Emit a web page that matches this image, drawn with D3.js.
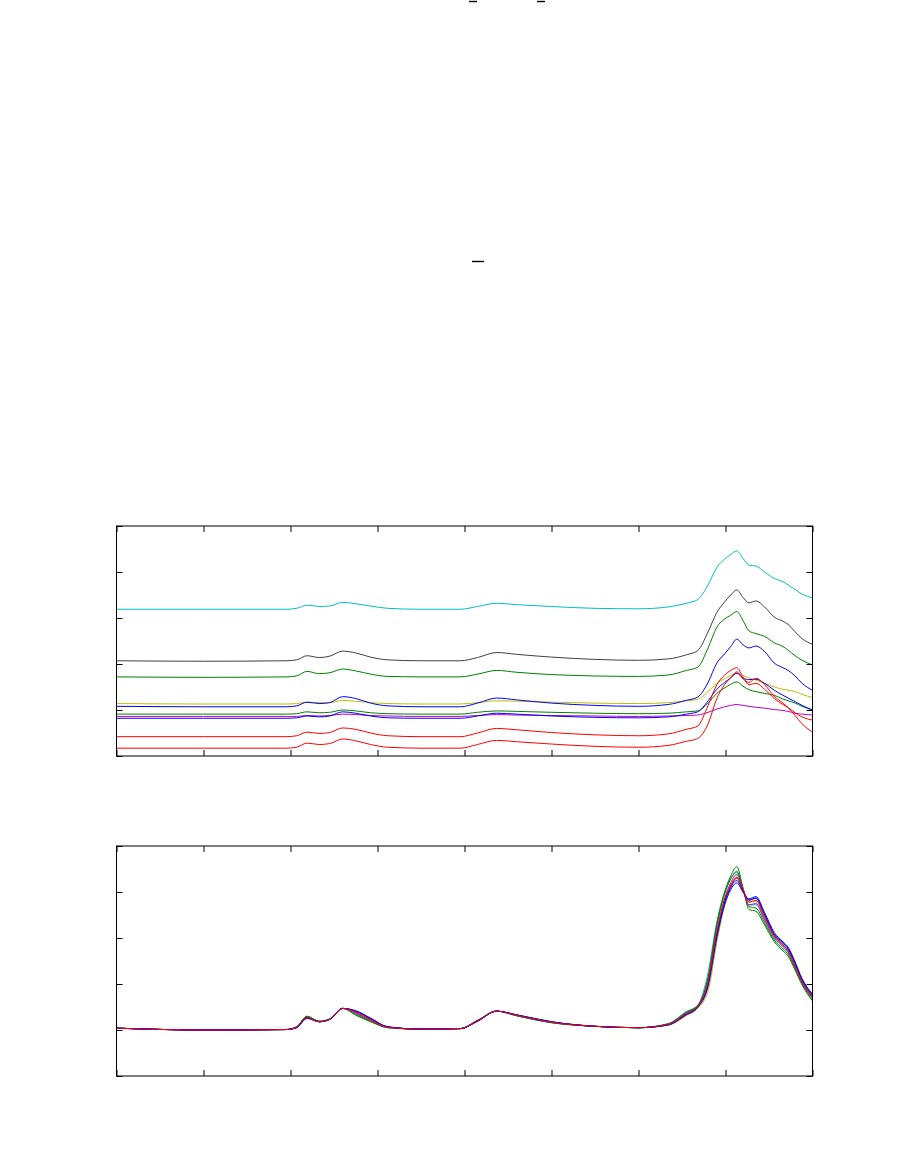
<!DOCTYPE html>
<html><head><meta charset="utf-8">
<script src="https://cdn.jsdelivr.net/npm/d3@7"></script>
<style>html,body{margin:0;padding:0;background:#fff;}svg{display:block;}</style>
</head><body>
<script>
// x sample positions (axis units, 0..8)
const xs = [0,1.0,1.95,2.07,2.19,2.33,2.45,2.60,2.75,2.92,3.12,3.5,3.95,4.15,4.37,4.6,5.0,5.5,6.0,6.34,6.55,6.68,6.80,6.90,6.99,7.06,7.13,7.20,7.27,7.35,7.45,7.56,7.66,7.72,7.80,7.88,8.0];
const xTicks = [0,1,2,3,4,5,6,7,8];
const yTicks = [0,1,2,3,4,5];

// Panel 1: offset spectra
const p1Cyan   = [3.19,3.19,3.19,3.21,3.28,3.25,3.26,3.34,3.31,3.26,3.21,3.19,3.19,3.25,3.32,3.29,3.25,3.21,3.20,3.24,3.32,3.40,3.72,4.10,4.28,4.38,4.46,4.30,4.15,4.13,4.00,3.86,3.79,3.72,3.62,3.52,3.44];
const p1Gray   = [2.07,2.06,2.07,2.09,2.18,2.14,2.17,2.28,2.24,2.15,2.09,2.07,2.07,2.14,2.25,2.21,2.15,2.10,2.08,2.11,2.20,2.29,2.70,3.12,3.35,3.50,3.61,3.45,3.33,3.37,3.24,3.02,2.93,2.86,2.70,2.55,2.43];
const p1Green1 = [1.72,1.71,1.72,1.74,1.84,1.79,1.81,1.89,1.85,1.78,1.73,1.72,1.72,1.78,1.86,1.82,1.77,1.74,1.73,1.76,1.86,1.93,2.35,2.80,2.98,3.06,3.14,2.95,2.72,2.66,2.60,2.46,2.38,2.30,2.18,2.08,1.98];
const p1Yellow = [1.14,1.13,1.13,1.14,1.17,1.16,1.16,1.21,1.19,1.16,1.14,1.13,1.13,1.16,1.20,1.19,1.17,1.15,1.14,1.16,1.20,1.23,1.40,1.58,1.68,1.75,1.80,1.75,1.70,1.65,1.58,1.50,1.45,1.43,1.40,1.34,1.27];
const p1Blue1  = [1.08,1.07,1.07,1.09,1.17,1.14,1.16,1.29,1.25,1.15,1.09,1.07,1.07,1.15,1.26,1.22,1.15,1.10,1.08,1.12,1.21,1.28,1.60,2.02,2.22,2.38,2.54,2.42,2.35,2.39,2.27,2.02,1.92,1.86,1.74,1.58,1.43];
const p1Green2 = [0.91,0.91,0.91,0.92,0.96,0.94,0.95,1.00,0.98,0.94,0.92,0.91,0.91,0.95,0.98,0.97,0.95,0.93,0.92,0.93,0.96,0.98,1.15,1.36,1.48,1.56,1.61,1.52,1.44,1.40,1.36,1.32,1.24,1.20,1.15,1.08,1.00];
const p1Purple = [0.86,0.86,0.86,0.86,0.88,0.87,0.88,0.91,0.90,0.88,0.87,0.86,0.86,0.88,0.90,0.89,0.88,0.87,0.86,0.87,0.88,0.89,0.95,1.02,1.07,1.10,1.12,1.10,1.08,1.06,1.04,1.01,0.99,0.97,0.93,0.91,0.89];
const p1Blue2  = [0.82,0.82,0.82,0.83,0.87,0.85,0.87,0.96,0.93,0.87,0.83,0.82,0.82,0.87,0.93,0.91,0.87,0.84,0.83,0.85,0.91,0.96,1.20,1.45,1.60,1.70,1.80,1.70,1.66,1.67,1.58,1.43,1.32,1.26,1.18,1.10,1.00];
const p1Red1   = [0.42,0.42,0.42,0.44,0.52,0.49,0.51,0.61,0.58,0.50,0.44,0.42,0.42,0.50,0.60,0.57,0.51,0.46,0.44,0.48,0.58,0.65,1.10,1.55,1.76,1.86,1.92,1.72,1.55,1.58,1.45,1.25,1.12,1.05,0.94,0.85,0.78];
const p1Red2   = [0.17,0.17,0.17,0.19,0.28,0.25,0.27,0.37,0.33,0.25,0.19,0.17,0.17,0.25,0.34,0.31,0.26,0.21,0.19,0.23,0.32,0.38,0.70,1.25,1.55,1.70,1.83,1.68,1.60,1.69,1.55,1.30,1.15,1.05,0.88,0.70,0.52];

// Panel 2: normalised spectra
const p2Green1  = [1.04,1.00,1.01,1.07,1.30,1.19,1.24,1.47,1.32,1.18,1.05,1.02,1.03,1.21,1.41,1.31,1.16,1.08,1.05,1.13,1.39,1.53,2.15,3.30,4.00,4.35,4.55,4.10,3.62,3.58,3.28,2.92,2.72,2.60,2.30,1.98,1.63];
const p2Green2  = [1.04,1.00,1.01,1.07,1.29,1.19,1.24,1.47,1.34,1.19,1.05,1.02,1.03,1.21,1.41,1.31,1.16,1.08,1.05,1.13,1.38,1.52,2.12,3.25,3.95,4.28,4.45,4.08,3.68,3.65,3.33,2.96,2.76,2.64,2.33,2.00,1.66];
const p2Teal    = [1.04,1.00,1.01,1.07,1.29,1.19,1.24,1.47,1.36,1.20,1.05,1.02,1.03,1.21,1.41,1.31,1.16,1.08,1.05,1.14,1.40,1.54,2.25,3.35,4.00,4.30,4.42,4.06,3.72,3.72,3.38,3.00,2.80,2.68,2.36,2.03,1.69];
const p2Yellow  = [1.04,1.00,1.01,1.05,1.26,1.18,1.23,1.47,1.38,1.22,1.06,1.02,1.03,1.20,1.41,1.32,1.17,1.08,1.05,1.10,1.31,1.47,1.85,2.90,3.70,4.10,4.32,4.06,3.78,3.80,3.45,3.05,2.85,2.72,2.40,2.05,1.72];
const p2Magenta = [1.04,1.00,1.01,1.06,1.27,1.18,1.23,1.47,1.37,1.21,1.06,1.02,1.03,1.20,1.41,1.32,1.17,1.08,1.05,1.12,1.36,1.51,2.05,3.12,3.85,4.20,4.38,4.05,3.72,3.75,3.40,3.02,2.82,2.70,2.38,2.04,1.70];
const p2Gray    = [1.04,1.00,1.01,1.06,1.27,1.18,1.23,1.47,1.40,1.24,1.06,1.02,1.03,1.20,1.41,1.32,1.17,1.08,1.05,1.12,1.35,1.50,2.02,3.08,3.80,4.12,4.30,4.05,3.82,3.86,3.50,3.08,2.88,2.76,2.44,2.08,1.74];
const p2Blue1   = [1.04,1.00,1.01,1.05,1.25,1.18,1.23,1.47,1.42,1.26,1.07,1.02,1.03,1.19,1.41,1.33,1.18,1.08,1.05,1.11,1.33,1.49,1.95,3.00,3.72,4.05,4.20,4.00,3.85,3.90,3.55,3.12,2.92,2.80,2.48,2.12,1.78];
const p2Blue2   = [1.04,1.00,1.01,1.05,1.26,1.18,1.23,1.47,1.41,1.25,1.07,1.02,1.03,1.19,1.41,1.33,1.18,1.08,1.05,1.11,1.34,1.50,2.00,3.08,3.78,4.10,4.25,4.02,3.83,3.87,3.50,3.08,2.90,2.77,2.45,2.09,1.76];
const p2Red     = [1.04,1.00,1.01,1.06,1.27,1.18,1.23,1.47,1.39,1.23,1.06,1.02,1.03,1.20,1.41,1.32,1.17,1.08,1.05,1.12,1.36,1.51,2.05,3.14,3.85,4.15,4.32,4.05,3.78,3.82,3.45,3.05,2.85,2.72,2.40,2.05,1.72];

const panel1 = [
  {c:"#00bfbf", v:p1Cyan},{c:"#404040", v:p1Gray},{c:"#008000", v:p1Green1},
  {c:"#bfbf00", v:p1Yellow},{c:"#0000ff", v:p1Blue1},{c:"#008000", v:p1Green2},
  {c:"#bf00bf", v:p1Purple},{c:"#0000ff", v:p1Blue2},{c:"#ff0000", v:p1Red1},{c:"#ff0000", v:p1Red2}
];
const panel2 = [
  {c:"#bfbf00", v:p2Yellow},{c:"#00bfbf", v:p2Teal},{c:"#008000", v:p2Green1},{c:"#008000", v:p2Green2},
  {c:"#404040", v:p2Gray},{c:"#bf00bf", v:p2Magenta},{c:"#0000ff", v:p2Blue1},{c:"#0000ff", v:p2Blue2},{c:"#ff0000", v:p2Red}
];

const W = 899, H = 1150;
const svg = d3.select("body").append("svg").attr("width", W).attr("height", H);

// stray marks at top of page
const marks = [[469,477,1.5],[537,545,1.5],[472,484,261.5]];
svg.selectAll("line.mark").data(marks).enter().append("line")
  .attr("x1", d=>d[0]).attr("x2", d=>d[1]).attr("y1", d=>d[2]).attr("y2", d=>d[2])
  .attr("stroke","#000").attr("stroke-width",1.4);

function drawPanel(top, series, id){
  const left = 116.5, right = 812.5, bottom = top + 230;
  const x = d3.scaleLinear().domain([0,8]).range([left,right]);
  const y = d3.scaleLinear().domain([0,5]).range([bottom,top]);
  const g = svg.append("g");
  g.append("clipPath").attr("id",id).append("rect")
    .attr("x",left).attr("y",top).attr("width",right-left).attr("height",bottom-top);
  const line = d3.line().x((d,i)=>x(xs[i])).y(d=>y(d)).curve(d3.curveMonotoneX);
  g.append("g").attr("clip-path",`url(#${id})`).selectAll("path").data(series).enter().append("path")
    .attr("d", d=>line(d.v)).attr("fill","none").attr("stroke",d=>d.c).attr("stroke-width",1);
  const tl = 6;
  // axes with inward ticks
  const ax = [
    [d3.axisBottom(x).tickValues(xTicks).tickSize(-tl).tickFormat(""), `translate(0,${bottom})`],
    [d3.axisTop(x).tickValues(xTicks).tickSize(-tl).tickFormat(""), `translate(0,${top})`],
    [d3.axisLeft(y).tickValues(yTicks).tickSize(-tl).tickFormat(""), `translate(${left},0)`],
    [d3.axisRight(y).tickValues(yTicks).tickSize(-tl).tickFormat(""), `translate(${right},0)`]
  ];
  ax.forEach(([a,t])=>{
    const ag = g.append("g").attr("transform",t).call(a);
    ag.select(".domain").remove();
    ag.selectAll("line").attr("stroke","#000").attr("stroke-width",1);
  });
  g.append("rect").attr("x",left).attr("y",top).attr("width",right-left).attr("height",bottom-top)
    .attr("fill","none").attr("stroke","#000").attr("stroke-width",1);
}
drawPanel(526, panel1, "c1");
drawPanel(846, panel2, "c2");
</script>
</body></html>
